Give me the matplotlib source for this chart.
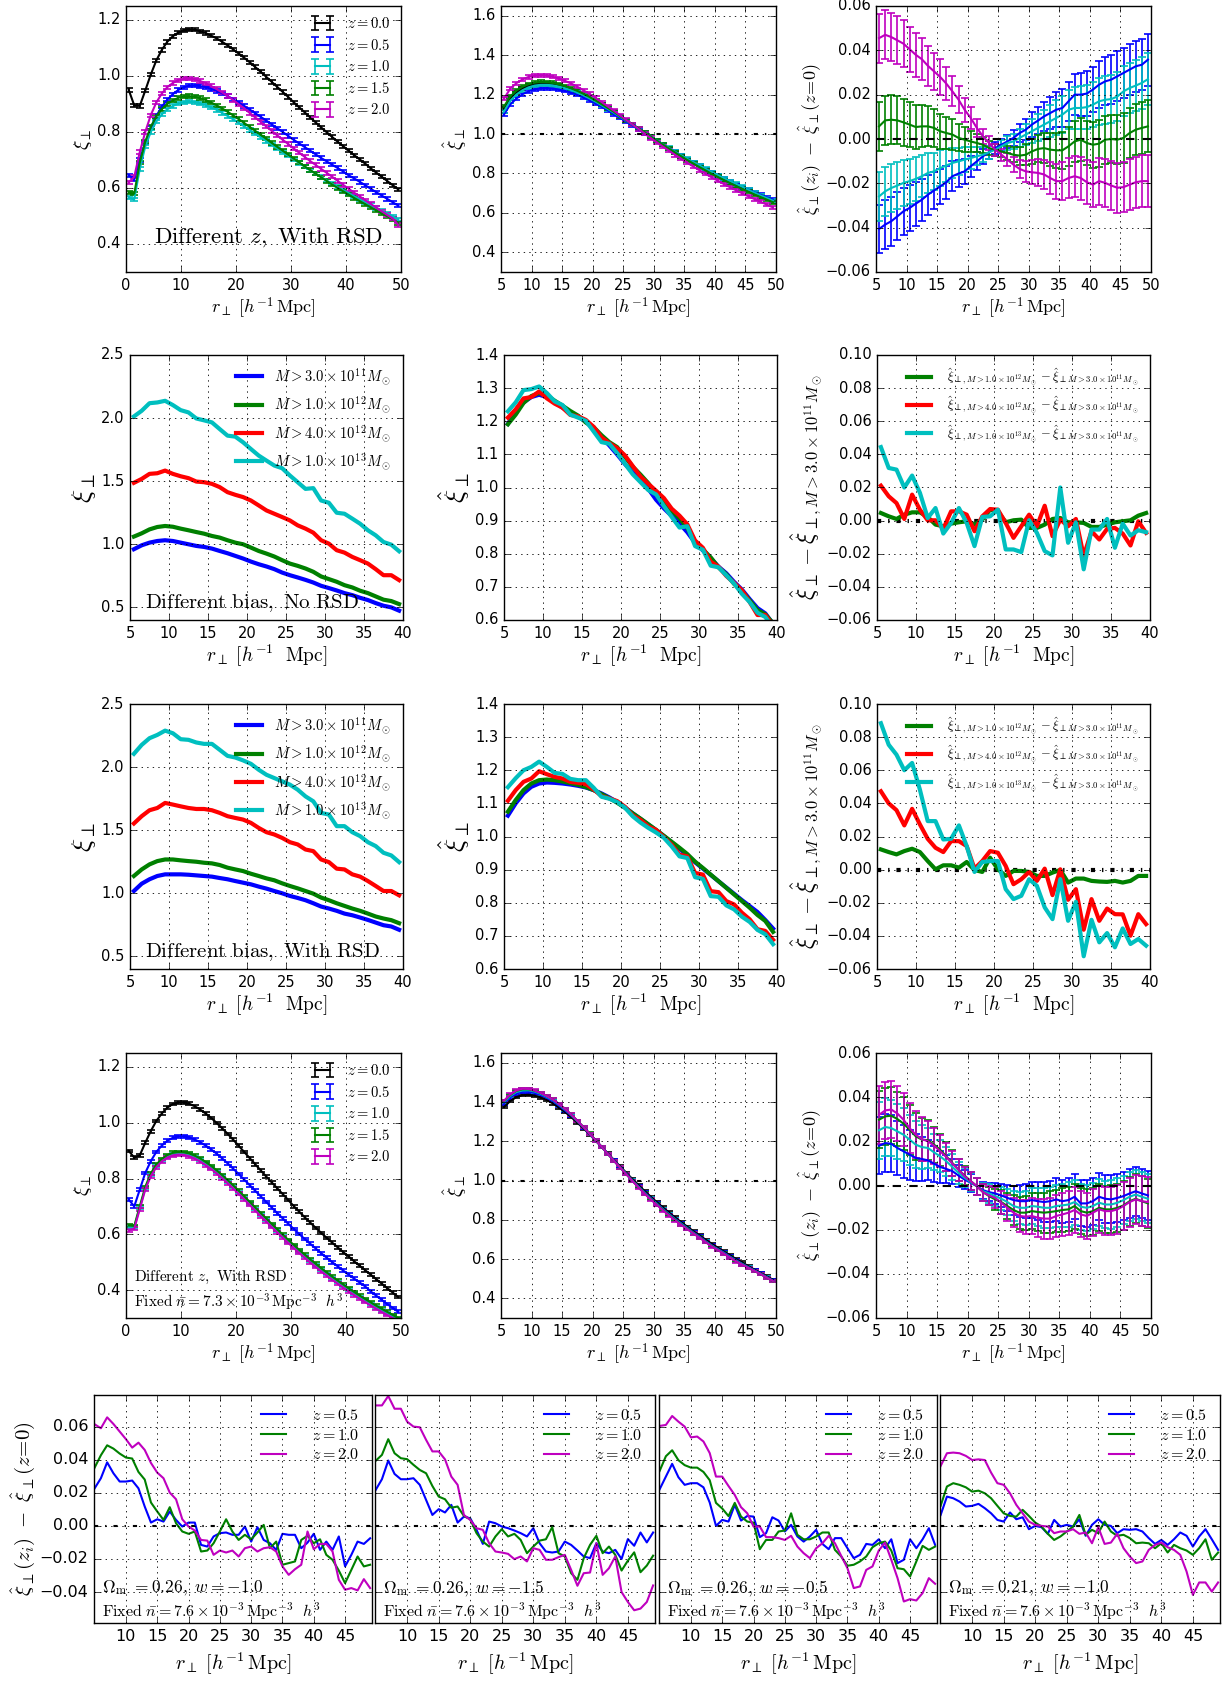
import numpy as np
import matplotlib
matplotlib.use('Agg')
import matplotlib.pyplot as plt

plt.style.use('classic')
plt.rcParams.update({
    'figure.facecolor': 'white', 'savefig.facecolor': 'white',
    'mathtext.fontset': 'cm', 'font.family': ['DejaVu Sans'],
    'xtick.labelsize': 10.5, 'ytick.labelsize': 10.5,
    'grid.linestyle': ':', 'grid.color': 'k', 'grid.linewidth': 0.6,
    'legend.numpoints': 2,
})

# ---------------- data ----------------
r_full = np.arange(0.5, 50, 1.0)      # panels A, J
r_45 = np.arange(5.5, 50, 1.0)        # panels B, C, K, L
r_35 = np.arange(5.5, 40, 1.0)        # rows 2, 3
r_cos = np.arange(5, 50, 1.0)         # bottom row

z_labels = ['$z=0.0$', '$z=0.5$', '$z=1.0$', '$z=1.5$', '$z=2.0$']
z_colors = ['k', 'b', 'c', 'g', 'm']

A_k = [0.950,0.895,0.893,0.948,1.005,1.055,1.093,1.122,1.142,1.155,1.163,1.166,1.165,1.160,1.153,1.144,1.134,1.122,1.109,1.095,1.080,1.065,1.049,1.032,1.015,0.997,0.979,0.961,0.943,0.925,0.906,0.888,0.870,0.852,0.834,0.816,0.799,0.782,0.765,0.749,0.733,0.717,0.702,0.687,0.670,0.655,0.640,0.625,0.610,0.595]
A_b = [0.645,0.632,0.700,0.762,0.815,0.857,0.890,0.915,0.935,0.950,0.960,0.965,0.966,0.964,0.960,0.954,0.947,0.938,0.928,0.917,0.905,0.893,0.880,0.867,0.854,0.841,0.827,0.813,0.800,0.786,0.772,0.759,0.746,0.733,0.720,0.707,0.695,0.683,0.671,0.659,0.645,0.634,0.622,0.610,0.597,0.585,0.573,0.561,0.549,0.537]
A_c = [0.565,0.560,0.668,0.748,0.800,0.837,0.863,0.881,0.893,0.901,0.906,0.908,0.906,0.902,0.896,0.888,0.879,0.868,0.857,0.845,0.833,0.820,0.807,0.794,0.781,0.768,0.755,0.741,0.728,0.715,0.702,0.689,0.676,0.663,0.651,0.639,0.627,0.615,0.603,0.592,0.581,0.570,0.559,0.549,0.539,0.529,0.519,0.509,0.499,0.488]
A_g = [0.583,0.580,0.690,0.765,0.818,0.855,0.882,0.900,0.913,0.922,0.927,0.928,0.926,0.921,0.914,0.905,0.895,0.884,0.872,0.859,0.846,0.832,0.818,0.804,0.790,0.776,0.761,0.747,0.733,0.719,0.705,0.691,0.677,0.664,0.651,0.638,0.625,0.612,0.600,0.588,0.576,0.564,0.553,0.542,0.531,0.520,0.509,0.499,0.489,0.474]
A_m = [0.620,0.640,0.728,0.800,0.860,0.905,0.937,0.960,0.975,0.985,0.990,0.991,0.988,0.982,0.974,0.964,0.953,0.941,0.928,0.914,0.899,0.884,0.868,0.852,0.836,0.820,0.804,0.788,0.772,0.757,0.741,0.726,0.711,0.696,0.682,0.668,0.654,0.640,0.625,0.611,0.597,0.583,0.570,0.556,0.543,0.530,0.517,0.504,0.491,0.468]
A_err = 0.006

B_k = [1.128,1.180,1.210,1.231,1.245,1.253,1.257,1.257,1.253,1.247,1.238,1.228,1.215,1.201,1.185,1.167,1.149,1.130,1.110,1.090,1.069,1.049,1.028,1.008,0.987,0.967,0.947,0.927,0.908,0.889,0.871,0.853,0.836,0.819,0.802,0.786,0.771,0.756,0.741,0.727,0.712,0.698,0.685,0.671,0.658]
B_b = [1.100,1.150,1.180,1.202,1.217,1.227,1.232,1.233,1.231,1.226,1.219,1.210,1.199,1.186,1.171,1.155,1.138,1.120,1.101,1.082,1.063,1.044,1.024,1.005,0.985,0.966,0.947,0.928,0.909,0.891,0.873,0.856,0.839,0.822,0.806,0.790,0.775,0.760,0.745,0.731,0.717,0.704,0.691,0.679,0.668]
B_c = [1.115,1.168,1.200,1.222,1.237,1.246,1.250,1.250,1.247,1.241,1.233,1.223,1.211,1.197,1.181,1.164,1.146,1.127,1.108,1.088,1.068,1.048,1.028,1.008,0.988,0.968,0.948,0.929,0.910,0.892,0.874,0.857,0.840,0.823,0.807,0.791,0.776,0.761,0.747,0.733,0.716,0.702,0.688,0.675,0.662]
B_g = [1.140,1.190,1.220,1.240,1.253,1.261,1.264,1.263,1.259,1.252,1.243,1.232,1.219,1.204,1.188,1.170,1.151,1.132,1.112,1.091,1.070,1.050,1.029,1.008,0.987,0.966,0.946,0.926,0.906,0.887,0.868,0.850,0.832,0.815,0.798,0.782,0.766,0.751,0.736,0.721,0.707,0.693,0.680,0.667,0.654]
B_m = [1.180,1.230,1.258,1.277,1.290,1.297,1.299,1.297,1.291,1.282,1.270,1.256,1.240,1.222,1.203,1.183,1.162,1.140,1.118,1.095,1.072,1.049,1.026,1.003,0.980,0.958,0.936,0.915,0.894,0.874,0.854,0.835,0.816,0.798,0.780,0.763,0.746,0.730,0.714,0.699,0.684,0.670,0.656,0.642,0.628]
B_err = 0.008

C_b = [-0.0406,-0.0386,-0.0371,-0.0349,-0.0326,-0.0311,-0.0292,-0.0274,-0.0251,-0.0232,-0.0214,-0.0195,-0.0168,-0.0156,-0.0146,-0.0123,-0.0101,-0.0078,-0.0060,-0.0041,-0.0026,-0.0011,0.0005,0.0027,0.0042,0.0065,0.0083,0.0102,0.0117,0.0132,0.0140,0.0170,0.0200,0.0200,0.0205,0.0223,0.0245,0.0260,0.0268,0.0283,0.0298,0.0313,0.0328,0.0335,0.0358]
C_c = [-0.0259,-0.0236,-0.0221,-0.0210,-0.0198,-0.0190,-0.0180,-0.0168,-0.0153,-0.0146,-0.0131,-0.0120,-0.0108,-0.0101,-0.0093,-0.0086,-0.0078,-0.0071,-0.0060,-0.0048,-0.0033,-0.0018,-0.0011,0.0005,0.0020,0.0035,0.0050,0.0065,0.0080,0.0095,0.0110,0.0132,0.0140,0.0140,0.0144,0.0155,0.0170,0.0177,0.0180,0.0192,0.0215,0.0230,0.0241,0.0253,0.0270]
C_g = [0.0057,0.0084,0.0087,0.0084,0.0075,0.0065,0.0054,0.0057,0.0057,0.0050,0.0035,0.0027,0.0020,0.0005,-0.0003,-0.0011,-0.0018,-0.0026,-0.0041,-0.0048,-0.0056,-0.0063,-0.0071,-0.0075,-0.0071,-0.0056,-0.0045,-0.0041,-0.0048,-0.0051,-0.0051,-0.0033,-0.0011,-0.0003,-0.0018,-0.0026,-0.0021,-0.0003,0.0000,-0.0003,0.0005,0.0027,0.0042,0.0050,0.0057]
C_m = [0.0455,0.0470,0.0460,0.0445,0.0430,0.0405,0.0380,0.0360,0.0330,0.0305,0.0280,0.0250,0.0215,0.0178,0.0132,0.0095,0.0050,0.0012,-0.0018,-0.0048,-0.0070,-0.0093,-0.0116,-0.0135,-0.0146,-0.0150,-0.0153,-0.0160,-0.0176,-0.0190,-0.0190,-0.0176,-0.0168,-0.0176,-0.0195,-0.0206,-0.0190,-0.0198,-0.0210,-0.0220,-0.0217,-0.0206,-0.0195,-0.0190,-0.0190]
C_err = [0.011,0.011,0.011,0.0108,0.0105,0.0102,0.0099,0.0095,0.009,0.0085,0.008,0.0074,0.0068,0.0061,0.0055,0.0048,0.0041,0.0035,0.003,0.0027,0.0027,0.003,0.0035,0.0041,0.0048,0.0055,0.0061,0.0067,0.0073,0.0079,0.0084,0.0089,0.0093,0.0097,0.010,0.0103,0.0106,0.0108,0.011,0.0112,0.0113,0.0114,0.0115,0.0116,0.0117]

m_labels = [r'$M>3.0\times10^{11}M_\odot$', r'$M>1.0\times10^{12}M_\odot$',
            r'$M>4.0\times10^{12}M_\odot$', r'$M>1.0\times10^{13}M_\odot$']
m_colors = ['b', 'g', 'r', 'c']

D_b = [0.961,0.992,1.013,1.026,1.032,1.026,1.013,1.000,0.987,0.979,0.966,0.947,0.929,0.908,0.887,0.863,0.842,0.824,0.803,0.776,0.755,0.737,0.718,0.697,0.671,0.653,0.634,0.613,0.597,0.576,0.558,0.534,0.513,0.500,0.474]
D_g = [1.061,1.087,1.118,1.137,1.145,1.139,1.124,1.111,1.097,1.084,1.066,1.053,1.032,1.013,1.000,0.974,0.947,0.926,0.903,0.874,0.847,0.829,0.808,0.782,0.745,0.724,0.703,0.676,0.658,0.632,0.613,0.587,0.561,0.550,0.526]
D_r = [1.487,1.518,1.558,1.563,1.584,1.558,1.539,1.524,1.497,1.492,1.479,1.453,1.413,1.392,1.374,1.347,1.308,1.268,1.242,1.216,1.189,1.150,1.124,1.092,1.032,1.005,0.953,0.934,0.900,0.874,0.847,0.803,0.755,0.755,0.716]
D_c = [2.013,2.058,2.118,2.124,2.137,2.103,2.063,2.045,1.997,1.982,1.966,1.913,1.861,1.853,1.808,1.755,1.703,1.663,1.624,1.603,1.545,1.492,1.439,1.445,1.347,1.329,1.250,1.242,1.203,1.163,1.111,1.071,1.018,0.997,0.945]

E_b = [1.192,1.231,1.257,1.273,1.280,1.273,1.257,1.241,1.225,1.215,1.199,1.175,1.153,1.127,1.100,1.071,1.045,1.022,0.996,0.963,0.937,0.914,0.891,0.865,0.833,0.810,0.787,0.761,0.741,0.715,0.692,0.663,0.636,0.620,0.588]
E_g = [1.191,1.220,1.255,1.276,1.285,1.278,1.262,1.247,1.231,1.217,1.196,1.182,1.158,1.137,1.122,1.093,1.063,1.039,1.013,0.981,0.951,0.930,0.907,0.878,0.836,0.813,0.789,0.759,0.738,0.709,0.688,0.659,0.630,0.617,0.590]
E_r = [1.211,1.236,1.269,1.273,1.290,1.269,1.253,1.241,1.219,1.215,1.204,1.183,1.151,1.134,1.119,1.097,1.065,1.033,1.011,0.990,0.968,0.936,0.915,0.889,0.840,0.818,0.776,0.761,0.733,0.712,0.690,0.654,0.615,0.615,0.583]
E_c = [1.230,1.257,1.294,1.297,1.305,1.285,1.260,1.249,1.220,1.211,1.201,1.169,1.137,1.132,1.104,1.072,1.040,1.016,0.992,0.979,0.944,0.911,0.879,0.883,0.823,0.812,0.764,0.759,0.735,0.710,0.679,0.654,0.622,0.609,0.577]

F_g = [0.0046,0.0026,0.0010,0.0036,0.0050,0.0050,0.0022,-0.0024,-0.0034,-0.0018,-0.0010,-0.0004,-0.0024,0.0006,0.0066,0.0056,-0.0010,0.0002,0.0006,-0.0044,-0.0044,-0.0024,0.0010,0.0016,-0.0010,-0.0010,-0.0014,-0.0038,-0.0038,-0.0024,-0.0010,-0.0004,0.0002,0.0030,0.0046]
F_r = [0.0211,0.0147,0.0106,0.0010,0.0157,0.0066,0.0002,0.0002,-0.0050,0.0056,0.0056,0.0036,-0.0064,0.0026,0.0070,0.0066,-0.0014,-0.0104,-0.0034,0.0036,-0.0034,0.0090,-0.0094,0.0006,-0.0034,0.0010,-0.0214,-0.0064,-0.0114,-0.0050,-0.0044,-0.0078,-0.0150,-0.0004,-0.0074]
F_c = [0.0444,0.0318,0.0308,0.0200,0.0272,0.0168,0.0016,0.0076,-0.0078,-0.0014,0.0076,-0.0014,-0.0154,0.0022,0.0026,0.0066,-0.0174,-0.0174,-0.0190,0.0002,-0.0074,-0.0184,-0.0210,0.0200,-0.0134,-0.0010,-0.0294,-0.0054,-0.0054,0.0010,-0.0164,-0.0018,-0.0090,-0.0058,-0.0070]

G_b = [1.018,1.076,1.111,1.137,1.150,1.150,1.150,1.147,1.142,1.137,1.132,1.121,1.111,1.097,1.084,1.071,1.053,1.037,1.018,1.000,0.979,0.963,0.945,0.921,0.895,0.879,0.861,0.839,0.826,0.808,0.789,0.768,0.747,0.737,0.711]
G_g = [1.137,1.189,1.229,1.255,1.268,1.268,1.261,1.255,1.250,1.242,1.237,1.224,1.203,1.189,1.176,1.155,1.137,1.118,1.103,1.079,1.058,1.039,1.018,0.997,0.966,0.945,0.921,0.900,0.879,0.861,0.839,0.816,0.800,0.787,0.763]
G_r = [1.553,1.611,1.658,1.676,1.716,1.703,1.689,1.676,1.668,1.668,1.658,1.637,1.611,1.597,1.584,1.558,1.518,1.484,1.466,1.439,1.405,1.387,1.347,1.334,1.268,1.247,1.195,1.189,1.150,1.132,1.097,1.058,1.018,1.018,0.984]
G_c = [2.105,2.176,2.229,2.255,2.289,2.268,2.221,2.216,2.195,2.184,2.184,2.137,2.089,2.076,2.053,2.026,1.979,1.939,1.913,1.887,1.861,1.821,1.768,1.729,1.637,1.624,1.532,1.532,1.484,1.453,1.405,1.374,1.321,1.300,1.247]

H_b = [1.063,1.100,1.130,1.150,1.160,1.163,1.162,1.160,1.157,1.153,1.148,1.140,1.130,1.118,1.104,1.088,1.070,1.053,1.036,1.019,1.001,0.982,0.963,0.943,0.922,0.903,0.884,0.865,0.846,0.827,0.808,0.790,0.772,0.748,0.722]
H_g = [1.075,1.110,1.140,1.160,1.170,1.172,1.170,1.166,1.161,1.156,1.149,1.140,1.128,1.116,1.102,1.087,1.070,1.054,1.037,1.020,1.002,0.984,0.966,0.947,0.924,0.905,0.885,0.865,0.845,0.825,0.805,0.785,0.763,0.745,0.712]
H_r = [1.108,1.140,1.165,1.175,1.197,1.188,1.180,1.175,1.165,1.162,1.158,1.142,1.122,1.115,1.107,1.090,1.064,1.050,1.030,1.020,0.998,0.975,0.945,0.940,0.890,0.885,0.835,0.832,0.805,0.795,0.770,0.750,0.720,0.715,0.688]
H_c = [1.149,1.176,1.200,1.210,1.226,1.210,1.192,1.189,1.174,1.170,1.170,1.147,1.120,1.114,1.104,1.087,1.061,1.042,1.026,1.012,0.996,0.970,0.940,0.935,0.877,0.872,0.820,0.818,0.792,0.780,0.758,0.742,0.718,0.705,0.675]

I_g = [0.0122,0.0106,0.0092,0.0112,0.0126,0.0106,0.0052,0.0002,0.0026,0.0026,0.0012,0.0046,-0.0002,-0.0014,0.0072,0.0002,-0.0038,-0.0008,-0.0008,-0.0014,-0.0038,-0.0038,-0.0018,-0.0002,-0.0078,-0.0054,-0.0054,-0.0068,-0.0072,-0.0074,-0.0068,-0.0078,-0.0068,-0.0038,-0.0038]
I_r = [0.0473,0.0400,0.0359,0.0267,0.0367,0.0273,0.0186,0.0132,0.0106,0.0172,0.0172,0.0142,0.0006,0.0052,0.0112,0.0102,0.0022,-0.0088,-0.0058,-0.0014,-0.0068,0.0006,-0.0154,0.0002,-0.0182,-0.0118,-0.0363,-0.0178,-0.0309,-0.0235,-0.0269,-0.0270,-0.0399,-0.0269,-0.0329]
I_c = [0.0884,0.0754,0.0694,0.0600,0.0644,0.0483,0.0293,0.0293,0.0182,0.0186,0.0267,0.0142,-0.0014,0.0046,0.0052,0.0052,-0.0118,-0.0178,-0.0158,-0.0058,-0.0098,-0.0228,-0.0299,-0.0058,-0.0309,-0.0194,-0.0523,-0.0303,-0.0439,-0.0383,-0.0469,-0.0355,-0.0449,-0.0419,-0.0459]

J_k = [0.899,0.875,0.883,0.928,0.970,1.006,1.033,1.054,1.067,1.073,1.073,1.068,1.059,1.047,1.033,1.017,0.999,0.980,0.960,0.939,0.917,0.895,0.873,0.851,0.829,0.807,0.786,0.765,0.744,0.723,0.701,0.681,0.661,0.642,0.623,0.605,0.587,0.570,0.553,0.536,0.520,0.503,0.487,0.471,0.455,0.439,0.423,0.407,0.391,0.375]
J_b = [0.725,0.700,0.760,0.820,0.862,0.895,0.918,0.935,0.946,0.951,0.951,0.947,0.940,0.930,0.918,0.904,0.889,0.872,0.854,0.835,0.816,0.796,0.776,0.756,0.736,0.716,0.696,0.676,0.657,0.638,0.619,0.601,0.583,0.566,0.549,0.532,0.516,0.500,0.485,0.470,0.455,0.441,0.427,0.413,0.395,0.380,0.365,0.350,0.336,0.322]
J_c = [0.625,0.625,0.695,0.765,0.813,0.845,0.866,0.880,0.888,0.891,0.890,0.885,0.877,0.867,0.854,0.840,0.824,0.807,0.789,0.770,0.751,0.731,0.711,0.691,0.671,0.652,0.632,0.613,0.594,0.575,0.557,0.539,0.522,0.505,0.489,0.473,0.458,0.443,0.429,0.415,0.401,0.388,0.375,0.363,0.351,0.339,0.328,0.317,0.306,0.295]
J_g = [0.632,0.630,0.700,0.770,0.818,0.850,0.870,0.884,0.892,0.895,0.894,0.890,0.882,0.872,0.859,0.845,0.829,0.812,0.794,0.775,0.756,0.736,0.716,0.696,0.676,0.657,0.637,0.618,0.599,0.580,0.562,0.544,0.527,0.510,0.494,0.478,0.463,0.448,0.434,0.420,0.406,0.393,0.380,0.368,0.356,0.344,0.333,0.322,0.311,0.300]
J_m = [0.615,0.620,0.690,0.760,0.808,0.840,0.861,0.875,0.883,0.886,0.885,0.880,0.872,0.861,0.848,0.834,0.818,0.801,0.783,0.764,0.745,0.725,0.705,0.685,0.665,0.646,0.626,0.607,0.588,0.569,0.551,0.533,0.516,0.499,0.483,0.467,0.452,0.437,0.423,0.409,0.395,0.382,0.369,0.357,0.345,0.333,0.322,0.311,0.300,0.290]
J_err = 0.005

K_k = [1.375,1.405,1.425,1.435,1.437,1.433,1.424,1.410,1.393,1.372,1.349,1.323,1.295,1.266,1.235,1.203,1.171,1.138,1.105,1.072,1.040,1.008,0.977,0.947,0.918,0.890,0.863,0.837,0.812,0.788,0.765,0.742,0.720,0.699,0.678,0.658,0.638,0.619,0.600,0.582,0.564,0.546,0.529,0.512,0.495]
K_b = [1.393,1.424,1.444,1.452,1.453,1.447,1.436,1.422,1.404,1.382,1.357,1.331,1.302,1.270,1.238,1.204,1.171,1.136,1.102,1.068,1.035,1.002,0.970,0.940,0.911,0.883,0.856,0.830,0.805,0.782,0.758,0.735,0.715,0.691,0.670,0.651,0.633,0.613,0.594,0.576,0.559,0.542,0.526,0.508,0.491]
K_c = [1.400,1.431,1.451,1.459,1.460,1.454,1.442,1.427,1.410,1.387,1.362,1.334,1.303,1.272,1.238,1.204,1.171,1.135,1.101,1.067,1.034,1.000,0.968,0.937,0.908,0.881,0.853,0.827,0.802,0.779,0.756,0.733,0.712,0.689,0.668,0.649,0.630,0.610,0.591,0.574,0.557,0.541,0.525,0.507,0.489]
K_g = [1.405,1.436,1.457,1.465,1.465,1.458,1.446,1.431,1.413,1.390,1.365,1.336,1.305,1.273,1.240,1.205,1.171,1.135,1.100,1.066,1.033,0.999,0.966,0.935,0.906,0.878,0.851,0.825,0.800,0.776,0.754,0.731,0.711,0.687,0.666,0.646,0.628,0.608,0.589,0.572,0.555,0.539,0.523,0.505,0.487]
K_m = [1.407,1.439,1.459,1.468,1.467,1.459,1.447,1.431,1.413,1.390,1.365,1.336,1.305,1.273,1.239,1.205,1.171,1.135,1.100,1.066,1.032,0.998,0.965,0.933,0.904,0.876,0.848,0.822,0.797,0.774,0.752,0.730,0.709,0.686,0.664,0.646,0.627,0.607,0.588,0.571,0.555,0.539,0.523,0.505,0.488]
K_err = 0.006

L_b = [0.0180,0.0192,0.0189,0.0170,0.0155,0.0140,0.0125,0.0120,0.0114,0.0099,0.0084,0.0075,0.0065,0.0045,0.0027,0.0012,-0.0003,-0.0021,-0.0030,-0.0036,-0.0045,-0.0056,-0.0066,-0.0071,-0.0071,-0.0066,-0.0071,-0.0075,-0.0071,-0.0063,-0.0071,-0.0066,-0.0051,-0.0081,-0.0081,-0.0071,-0.0051,-0.0060,-0.0063,-0.0056,-0.0048,-0.0036,-0.0026,-0.0036,-0.0045]
L_c = [0.0250,0.0265,0.0260,0.0245,0.0230,0.0208,0.0185,0.0174,0.0170,0.0150,0.0132,0.0110,0.0084,0.0057,0.0035,0.0015,-0.0003,-0.0026,-0.0036,-0.0048,-0.0060,-0.0075,-0.0093,-0.0101,-0.0101,-0.0093,-0.0096,-0.0101,-0.0101,-0.0093,-0.0090,-0.0086,-0.0075,-0.0096,-0.0101,-0.0093,-0.0078,-0.0086,-0.0086,-0.0078,-0.0066,-0.0051,-0.0041,-0.0051,-0.0060]
L_g = [0.0298,0.0313,0.0316,0.0301,0.0280,0.0253,0.0223,0.0208,0.0205,0.0185,0.0162,0.0132,0.0102,0.0072,0.0045,0.0020,-0.0003,-0.0030,-0.0048,-0.0063,-0.0075,-0.0093,-0.0111,-0.0123,-0.0123,-0.0116,-0.0120,-0.0123,-0.0120,-0.0116,-0.0111,-0.0108,-0.0093,-0.0116,-0.0123,-0.0116,-0.0101,-0.0108,-0.0108,-0.0101,-0.0090,-0.0071,-0.0060,-0.0071,-0.0081]
L_m = [0.0320,0.0340,0.0344,0.0326,0.0298,0.0260,0.0230,0.0210,0.0200,0.0180,0.0155,0.0129,0.0099,0.0072,0.0042,0.0020,-0.0003,-0.0030,-0.0045,-0.0056,-0.0078,-0.0101,-0.0123,-0.0138,-0.0141,-0.0138,-0.0146,-0.0150,-0.0150,-0.0138,-0.0131,-0.0123,-0.0111,-0.0131,-0.0138,-0.0123,-0.0108,-0.0116,-0.0116,-0.0108,-0.0093,-0.0075,-0.0063,-0.0071,-0.0075]
L_err = [0.013,0.013,0.0128,0.0124,0.012,0.0113,0.0106,0.0098,0.009,0.0082,0.0073,0.0065,0.0057,0.005,0.0044,0.004,0.0038,0.0039,0.0042,0.0047,0.0053,0.006,0.0066,0.0072,0.0077,0.0082,0.0086,0.009,0.0093,0.0096,0.0098,0.01,0.0102,0.0104,0.0105,0.0106,0.0107,0.0108,0.0109,0.011,0.011,0.0111,0.0111,0.0112,0.0112]

cos_labels = [r'$\Omega_{\rm m}\ =0.26,\ w=-1.0$', r'$\Omega_{\rm m}\ =0.26,\ w=-1.5$',
              r'$\Omega_{\rm m}\ =0.26,\ w=-0.5$', r'$\Omega_{\rm m}\ =0.21,\ w=-1.0$']
P_b = [
 [0.0227,0.0288,0.0384,0.0318,0.0268,0.0268,0.0274,0.0227,0.0117,0.0020,0.0040,0.0026,0.0087,0.0036,-0.0004,0.0020,0.0020,-0.0115,-0.0125,-0.0064,-0.0044,-0.0040,-0.0054,-0.0054,-0.0004,-0.0095,-0.0008,-0.0085,-0.0105,-0.0145,-0.0048,-0.0054,-0.0054,-0.0135,-0.0101,-0.0048,-0.0145,-0.0095,-0.0145,-0.0064,-0.0245,-0.0175,-0.0095,-0.0109,-0.0075],
 [0.0217,0.0282,0.0395,0.0314,0.0282,0.0282,0.0288,0.0248,0.0157,0.0066,0.0101,0.0081,0.0127,0.0020,0.0056,0.0046,-0.0024,-0.0109,0.0026,0.0016,-0.0004,-0.0014,-0.0028,-0.0044,-0.0064,-0.0014,-0.0105,-0.0155,-0.0161,-0.0155,-0.0095,-0.0115,-0.0149,-0.0185,-0.0195,-0.0105,-0.0155,-0.0165,-0.0145,-0.0200,-0.0080,-0.0120,-0.0040,-0.0100,-0.0040],
 [0.0221,0.0298,0.0375,0.0294,0.0248,0.0258,0.0258,0.0233,0.0141,0.0000,0.0036,0.0026,0.0127,0.0032,0.0060,0.0056,-0.0068,-0.0044,0.0052,0.0032,-0.0034,0.0006,-0.0064,-0.0095,-0.0064,-0.0024,-0.0109,-0.0141,-0.0074,-0.0074,-0.0135,-0.0195,-0.0175,-0.0109,-0.0115,-0.0081,-0.0135,-0.0081,-0.0225,-0.0205,-0.0081,-0.0135,-0.0081,-0.0014,-0.0115],
 [0.0066,0.0177,0.0167,0.0147,0.0117,0.0121,0.0133,0.0107,0.0076,0.0036,0.0026,0.0081,0.0040,0.0052,-0.0020,0.0000,-0.0008,-0.0048,0.0036,-0.0004,0.0006,-0.0004,0.0040,-0.0060,0.0006,0.0040,0.0006,0.0000,-0.0044,-0.0020,-0.0024,-0.0020,-0.0034,-0.0074,-0.0109,-0.0085,-0.0115,-0.0081,-0.0040,-0.0060,-0.0125,-0.0064,-0.0020,-0.0081,-0.0145],
]
P_g = [
 [0.0352,0.0427,0.0487,0.0467,0.0437,0.0413,0.0407,0.0326,0.0280,0.0141,0.0087,0.0036,0.0113,0.0016,-0.0034,-0.0048,-0.0034,-0.0155,-0.0149,-0.0105,-0.0034,0.0040,-0.0034,-0.0085,-0.0054,-0.0081,-0.0040,0.0006,-0.0135,-0.0095,-0.0235,-0.0225,-0.0215,-0.0085,-0.0060,-0.0105,-0.0081,-0.0175,-0.0205,-0.0270,-0.0346,-0.0266,-0.0185,-0.0245,-0.0235],
 [0.0393,0.0429,0.0524,0.0439,0.0409,0.0403,0.0369,0.0338,0.0318,0.0241,0.0177,0.0161,0.0110,0.0117,0.0060,0.0040,-0.0044,-0.0095,-0.0125,-0.0064,-0.0020,-0.0064,-0.0048,-0.0085,-0.0165,-0.0125,-0.0089,-0.0081,-0.0008,-0.0165,-0.0185,-0.0286,-0.0326,-0.0195,-0.0115,-0.0060,-0.0165,-0.0125,-0.0175,-0.0270,-0.0210,-0.0160,-0.0280,-0.0240,-0.0180],
 [0.0332,0.0421,0.0457,0.0397,0.0367,0.0352,0.0352,0.0326,0.0276,0.0139,0.0105,0.0059,0.0139,0.0056,0.0026,0.0020,-0.0141,-0.0085,-0.0085,-0.0034,-0.0028,0.0076,-0.0054,-0.0081,-0.0081,-0.0064,-0.0040,-0.0040,-0.0145,-0.0185,-0.0241,-0.0235,-0.0215,-0.0185,-0.0129,-0.0105,-0.0095,-0.0149,-0.0256,-0.0262,-0.0306,-0.0215,-0.0121,-0.0145,-0.0125],
 [0.0121,0.0238,0.0258,0.0248,0.0233,0.0207,0.0213,0.0197,0.0167,0.0121,0.0076,0.0060,0.0056,0.0097,0.0060,0.0020,-0.0004,-0.0048,-0.0085,-0.0064,-0.0034,-0.0004,0.0066,-0.0054,-0.0024,-0.0044,0.0026,-0.0034,-0.0060,-0.0054,-0.0074,-0.0105,-0.0101,-0.0105,-0.0135,-0.0105,-0.0161,-0.0115,-0.0135,-0.0149,-0.0175,-0.0135,-0.0081,-0.0205,-0.0161],
]
P_m = [
 [0.0614,0.0590,0.0656,0.0616,0.0570,0.0524,0.0473,0.0503,0.0459,0.0380,0.0322,0.0288,0.0201,0.0161,0.0040,-0.0004,-0.0028,-0.0085,-0.0089,-0.0175,-0.0149,-0.0161,-0.0149,-0.0185,-0.0135,-0.0125,-0.0155,-0.0135,-0.0129,-0.0155,-0.0245,-0.0296,-0.0262,-0.0235,-0.0034,-0.0141,-0.0109,-0.0109,-0.0155,-0.0326,-0.0386,-0.0376,-0.0390,-0.0322,-0.0376],
 [0.0728,0.0728,0.0785,0.0708,0.0708,0.0630,0.0600,0.0596,0.0520,0.0450,0.0450,0.0402,0.0298,0.0248,0.0066,0.0036,-0.0014,-0.0024,-0.0105,-0.0155,-0.0161,-0.0169,-0.0201,-0.0185,-0.0215,-0.0135,-0.0145,-0.0205,-0.0205,-0.0189,-0.0175,-0.0266,-0.0362,-0.0286,-0.0282,-0.0105,-0.0296,-0.0256,-0.0185,-0.0400,-0.0460,-0.0510,-0.0500,-0.0460,-0.0360],
 [0.0604,0.0610,0.0664,0.0630,0.0600,0.0535,0.0540,0.0510,0.0440,0.0298,0.0298,0.0241,0.0187,0.0113,0.0076,-0.0004,-0.0004,-0.0068,-0.0068,-0.0074,-0.0085,-0.0060,-0.0125,-0.0165,-0.0195,-0.0135,-0.0105,-0.0060,-0.0105,-0.0181,-0.0256,-0.0376,-0.0366,-0.0266,-0.0245,-0.0149,-0.0101,-0.0205,-0.0316,-0.0457,-0.0443,-0.0451,-0.0406,-0.0316,-0.0350],
 [0.0362,0.0439,0.0443,0.0439,0.0423,0.0398,0.0402,0.0398,0.0322,0.0258,0.0248,0.0197,0.0127,0.0076,0.0026,0.0006,0.0000,-0.0004,-0.0044,-0.0034,-0.0034,-0.0020,-0.0048,-0.0040,-0.0105,-0.0008,-0.0109,-0.0101,-0.0048,-0.0135,-0.0185,-0.0225,-0.0215,-0.0145,-0.0115,-0.0101,-0.0129,-0.0145,-0.0175,-0.0276,-0.0417,-0.0342,-0.0342,-0.0397,-0.0342],
]

# ---------------- figure ----------------
W, H = 1225, 1682
fig = plt.figure(figsize=(W / 100, H / 100), dpi=100)

def box(l, t, r, b):
    return fig.add_axes([l / W, 1 - b / H, (r - l) / W, (b - t) / H])

XL1 = r'$r_\perp\ [h^{-1}\,\mathrm{Mpc}]$'
XL2 = r'$r_\perp\ [h^{-1}\ \ \mathrm{Mpc}]$'
YL_DIFF = r'$\hat{\xi}_\perp(z_i)\ -\ \hat{\xi}_\perp(z\!=\!0)$'
YL_BIAS = r'$\hat{\xi}_\perp - \hat{\xi}_{\perp,M>3.0\times10^{11}M_\odot}$'

def style(ax, xlim, ylim, yticks, xticks, xlabel, ylabel, ylsize=14, xlsize=13, xpad=2):
    ax.set_xlim(*xlim)
    ax.set_ylim(*ylim)
    ax.set_yticks(yticks)
    ax.set_xticks(xticks)
    ax.grid(True)
    ax.set_xlabel(xlabel, fontsize=xlsize, labelpad=xpad)
    if ylabel:
        ax.set_ylabel(ylabel, fontsize=ylsize, labelpad=2)

def panel_xi(ax, rows, err, text_lines, text_pos, text_size):
    for y, c, lab in zip(rows, z_colors, z_labels):
        ax.errorbar(r_full, y, yerr=err, color=c, lw=1.5, capsize=3, capthick=1.2,
                    elinewidth=1.2, label=lab)
    style(ax, (0, 50), (0.3, 1.25), [0.4, 0.6, 0.8, 1.0, 1.2], range(0, 51, 10), XL1, r'$\xi_\perp$')
    ax.legend(loc='upper right', frameon=False, fontsize=10.5, handlelength=1.6,
              labelspacing=0.45, borderaxespad=0.3, handletextpad=0.9)
    for (tx, ty), t in zip(text_pos, text_lines):
        ax.text(tx, ty, t, transform=ax.transAxes, fontsize=text_size, ha='left', va='center')

def panel_norm(ax, rows, err):
    for y, c in zip(rows, z_colors):
        ax.errorbar(r_45, y, yerr=err, color=c, lw=1.5, capsize=3, capthick=1.2, elinewidth=1.2)
    ax.axhline(1.0, color='k', ls='-.', lw=1.5)
    style(ax, (5, 50), (0.3, 1.65), [0.4, 0.6, 0.8, 1.0, 1.2, 1.4, 1.6], range(5, 51, 5), XL1, r'$\hat{\xi}_\perp$')

def panel_zdiff(ax, rows, err):
    for y, c in zip(rows, ['b', 'c', 'g', 'm']):
        ax.errorbar(r_45, y, yerr=err, color=c, lw=1.5, capsize=3, capthick=1.2, elinewidth=1.2)
    ax.axhline(0.0, color='k', ls='--', lw=1.5)
    style(ax, (5, 50), (-0.06, 0.06), np.arange(-0.06, 0.061, 0.02), range(5, 51, 5), XL1, YL_DIFF, ylsize=13)

def panel_bias(ax, rows, text):
    for y, c, lab in zip(rows, m_colors, m_labels):
        ax.plot(r_35, y, color=c, lw=3, label=lab)
    style(ax, (5, 40), (0.4, 2.5), [0.5, 1.0, 1.5, 2.0, 2.5], range(5, 41, 5), XL2, r'$\xi_\perp$', ylsize=20, xlsize=14)
    ax.legend(loc='upper right', frameon=False, fontsize=10.5, handlelength=2.4,
              labelspacing=0.55, borderaxespad=0.4, handletextpad=0.5)
    ax.text(0.055, 0.065, text, transform=ax.transAxes, fontsize=15, ha='left', va='center')

def panel_bnorm(ax, rows):
    for y, c in zip(rows, m_colors):
        ax.plot(r_35, y, color=c, lw=3)
    style(ax, (5, 40), (0.6, 1.4), np.arange(0.6, 1.41, 0.1), range(5, 41, 5), XL2, r'$\hat{\xi}_\perp$', ylsize=20, xlsize=14)

def panel_bdiff(ax, rows):
    labs = [r'$\hat{\xi}_{\perp,M>1.0\times10^{12}M_\odot} - \hat{\xi}_{\perp M>3.0\times10^{11}M_\odot}$',
            r'$\hat{\xi}_{\perp,M>4.0\times10^{12}M_\odot} - \hat{\xi}_{\perp M>3.0\times10^{11}M_\odot}$',
            r'$\hat{\xi}_{\perp,M>1.0\times10^{13}M_\odot} - \hat{\xi}_{\perp M>3.0\times10^{11}M_\odot}$']
    ax.axhline(0.0, color='k', ls='-.', lw=3)
    for y, c, lab in zip(rows, ['g', 'r', 'c'], labs):
        ax.plot(r_35, y, color=c, lw=3, label=lab)
    style(ax, (5, 40), (-0.06, 0.10), np.arange(-0.06, 0.101, 0.02), range(5, 41, 5), XL2, YL_BIAS, ylsize=17, xlsize=14)
    ax.legend(loc='upper right', frameon=False, fontsize=9, handlelength=2.5,
              labelspacing=0.6, borderaxespad=0.5, handletextpad=1.0)

# Row 1
axA = box(126, 6, 401, 272)
panel_xi(axA, [A_k, A_b, A_c, A_g, A_m], A_err,
         [r'$\mathrm{Different}\ z\mathrm{,\ With\ RSD}$'], [(0.1, 0.13)], 16.5)
axB = box(501, 6, 776, 272)
panel_norm(axB, [B_k, B_b, B_c, B_g, B_m], B_err)
axC = box(876, 6, 1151, 272)
panel_zdiff(axC, [C_b, C_c, C_g, C_m], C_err)

# Row 2
axD = box(130, 355, 403, 620)
panel_bias(axD, [D_b, D_g, D_r, D_c], r'$\mathrm{Different\ bias,\ No\ RSD}$')
axE = box(504, 355, 777, 620)
panel_bnorm(axE, [E_b, E_g, E_r, E_c])
axF = box(877, 355, 1150, 620)
panel_bdiff(axF, [F_g, F_r, F_c])

# Row 3
axG = box(130, 704, 403, 969)
panel_bias(axG, [G_b, G_g, G_r, G_c], r'$\mathrm{Different\ bias,\ With\ RSD}$')
axH = box(504, 704, 777, 969)
panel_bnorm(axH, [H_b, H_g, H_r, H_c])
axI = box(877, 704, 1150, 969)
panel_bdiff(axI, [I_g, I_r, I_c])

# Row 4
axJ = box(126, 1053, 401, 1318)
panel_xi(axJ, [J_k, J_b, J_c, J_g, J_m], J_err,
         [r'$\mathrm{Different}\ z\mathrm{,\ With\ RSD}$',
          r'$\mathrm{Fixed}\ \bar{n}=7.3\times10^{-3}\,\mathrm{Mpc}^{-3}\ \ h^3$'],
         [(0.03, 0.155), (0.03, 0.06)], 11)
axK = box(501, 1053, 776, 1318)
panel_norm(axK, [K_k, K_b, K_c, K_g, K_m], K_err)
axL = box(876, 1053, 1151, 1318)
panel_zdiff(axL, [L_b, L_c, L_g, L_m], L_err)

# Row 5
boxes5 = [(94, 372), (375, 655), (659, 937), (940, 1220)]
for i, (l, r) in enumerate(boxes5):
    ax = box(l, 1395, r, 1623)
    ax.axhline(0.0, color='k', ls='-.', lw=1.5)
    ax.plot(r_cos, P_b[i], color='b', lw=1.5, label='$z=0.5$')
    ax.plot(r_cos, P_g[i], color='g', lw=1.5, label='$z=1.0$')
    ax.plot(r_cos, P_m[i], color='m', lw=1.5, label='$z=2.0$')
    style(ax, (4.9, 49.3), (-0.0587, 0.0791), [-0.04, -0.02, 0.0, 0.02, 0.04, 0.06],
          range(10, 46, 5), XL1, YL_DIFF if i == 0 else None, ylsize=15, xlsize=14.5, xpad=5)
    ax.tick_params(labelsize=11.5)
    if i > 0:
        ax.set_yticklabels([])
    ax.legend(loc='upper right', frameon=False, fontsize=11.5, handlelength=2.2,
              labelspacing=0.3, borderaxespad=0.4, handletextpad=1.3)
    ax.text(0.03, 0.15, cos_labels[i], transform=ax.transAxes, fontsize=12.5, va='center')
    ax.text(0.03, 0.05, r'$\mathrm{Fixed}\ \bar{n}=7.6\times10^{-3}\,\mathrm{Mpc}^{-3}\ \ h^3$',
            transform=ax.transAxes, fontsize=11.5, va='center')

fig.savefig('out.png', dpi=100)
